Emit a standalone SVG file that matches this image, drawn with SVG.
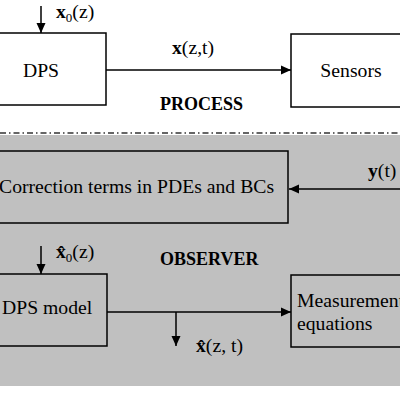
<svg xmlns="http://www.w3.org/2000/svg" width="400" height="400" viewBox="0 0 400 400">
<defs>
<style>
text{font-family:"Liberation Serif","Times New Roman",serif;fill:#000}
.t{font-size:19.7px}
.b{font-size:18px;font-weight:bold}
.box{fill:none;stroke:#000;stroke-width:1.5}
.ln{stroke:#000;stroke-width:1.5;fill:none}
</style>
<marker id="ah" viewBox="0 0 10 10" refX="10" refY="5" markerWidth="10" markerHeight="10" markerUnits="userSpaceOnUse" orient="auto">
<path d="M0,0.5 L10,5 L0,9.5 z" fill="#000"/>
</marker>
</defs>
<rect x="0" y="0" width="400" height="400" fill="#fff"/>
<rect x="0" y="135" width="400" height="251" fill="#c0c0c0"/>
<line x1="0" y1="133" x2="400" y2="133" stroke="#333" stroke-width="1.5" stroke-dasharray="6,3,1.5,3"/>

<g id="connectors">
<line class="ln" x1="41" y1="6" x2="41" y2="33" marker-end="url(#ah)"/>
<line class="ln" x1="106" y1="70" x2="291" y2="70" marker-end="url(#ah)"/>
<line class="ln" x1="400" y1="189" x2="289" y2="189" marker-end="url(#ah)"/>
<line class="ln" x1="41" y1="246" x2="41" y2="274" marker-end="url(#ah)"/>
<line class="ln" x1="107" y1="312" x2="291" y2="312" marker-end="url(#ah)"/>
<line class="ln" x1="176" y1="312" x2="176" y2="346" marker-end="url(#ah)"/>
</g>

<g id="dps">
<rect class="box" x="-5" y="33" width="111" height="72"/>
<text class="t" x="41" y="77" text-anchor="middle">DPS</text>
</g>
<g id="sensors">
<rect class="box" x="291" y="34" width="115" height="73"/>
<text class="t" x="351" y="77" text-anchor="middle">Sensors</text>
</g>
<g id="correction">
<rect class="box" x="-5" y="151" width="293" height="72"/>
<text class="t" x="-1" y="193">Correction terms in PDEs and BCs</text>
</g>
<g id="dpsmodel">
<rect class="box" x="-5" y="274" width="112" height="72"/>
<text class="t" x="2" y="314">DPS model</text>
</g>
<g id="measurement">
<rect class="box" x="291" y="275" width="115" height="72"/>
<text class="t" x="297" y="307">Measurement</text>
<text class="t" x="297" y="330">equations</text>
</g>

<g id="labels">
<text class="t" x="56" y="18"><tspan font-weight="bold">x</tspan><tspan font-size="13" dy="4">0</tspan><tspan dy="-4">(z)</tspan></text>
<text class="t" x="172" y="54"><tspan font-weight="bold">x</tspan>(z,t)</text>
<text class="b" x="160" y="110">PROCESS</text>
<text class="t" x="368" y="177"><tspan font-weight="bold">y</tspan>(t)</text>
<text class="t" x="56" y="258"><tspan font-weight="bold">x̂</tspan><tspan font-size="13" dy="4">0</tspan><tspan dy="-4">(z)</tspan></text>
<text class="b" x="160" y="265">OBSERVER</text>
<text class="t" x="196" y="352"><tspan font-weight="bold">x̂</tspan>(z, t)</text>
</g>
</svg>
